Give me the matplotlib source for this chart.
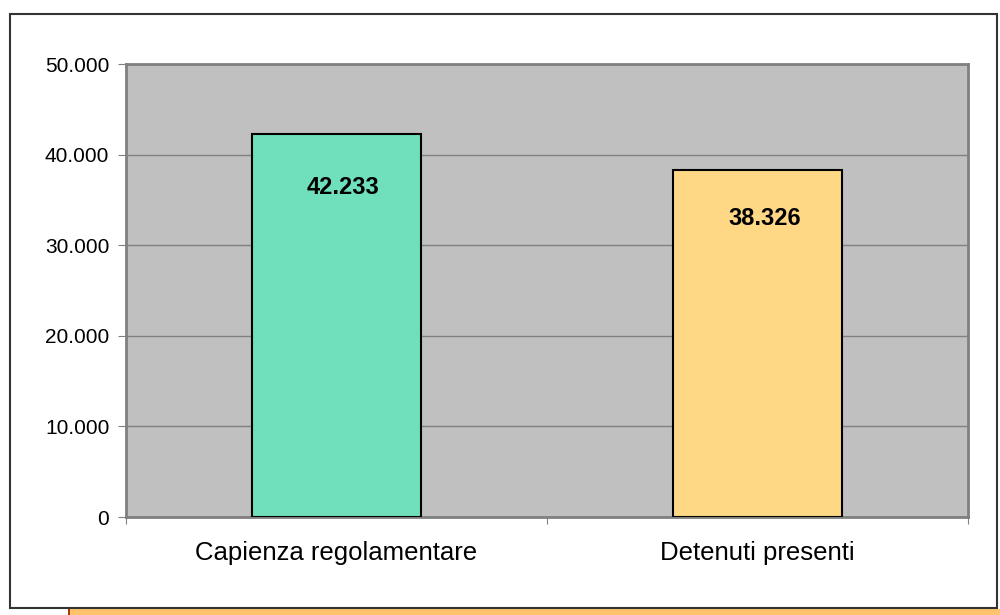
import matplotlib
matplotlib.use("Agg")
import matplotlib.pyplot as plt
from matplotlib.patches import Rectangle

plt.rcParams['font.family'] = ['Liberation Sans', 'DejaVu Sans']

categories = ["Capienza regolamentare", "Detenuti presenti"]
values = [42233, 38326]
value_labels = ["42.233", "38.326"]
colors = ["#70E0BC", "#FFD885"]
y_ticks = [0, 10000, 20000, 30000, 40000, 50000]
y_tick_labels = ["0", "10.000", "20.000", "30.000", "40.000", "50.000"]

fig = plt.figure(figsize=(10, 6.15), dpi=100)

# orange strip below the frame
fig.patches.append(Rectangle((0.068, 0), 0.932, 0.010, transform=fig.transFigure,
                             facecolor="#FFC36B", edgecolor="none", zorder=0))
fig.patches.append(Rectangle((0.068, 0), 0.002, 0.010, transform=fig.transFigure,
                             facecolor="#B03A00", edgecolor="none", zorder=0))
# outer frame
fig.patches.append(Rectangle((0.010, 0.0114), 0.987, 0.9658, transform=fig.transFigure,
                             facecolor="white", edgecolor="#333333", linewidth=1.5, zorder=1))

ax = fig.add_axes([0.126, 0.1593, 0.842, 0.7366])
ax.set_facecolor("#C0C0C0")
ax.set_zorder(2)

x = range(len(categories))
ax.bar(x, values, width=0.4, color=colors, edgecolor="black", linewidth=1.5, zorder=3)
for i, (v, lab) in enumerate(zip(values, value_labels)):
    ax.annotate(lab, (i, v * 0.86), xytext=(5, 0), textcoords="offset points",
                ha="center", va="center", fontsize=17, fontweight="bold", zorder=4)

ax.set_xlim(-0.5, 1.5)
ax.set_ylim(0, 50000)
ax.set_yticks(y_ticks)
ax.set_yticklabels(y_tick_labels, fontsize=15)
ax.yaxis.grid(True, color="#808080", linewidth=1, zorder=0)
ax.set_axisbelow(True)

ax.set_xticks([-0.5, 0.5, 1.5])
ax.set_xticklabels([])
ax.set_xticks(list(x), minor=True)
ax.set_xticklabels(categories, minor=True, fontsize=18.5)
ax.tick_params(axis="x", which="minor", length=0, pad=17)
ax.tick_params(axis="x", which="major", length=5, color="#808080")
ax.tick_params(axis="y", length=6, color="#808080", pad=6)

for s in ax.spines.values():
    s.set_color("#808080")
    s.set_linewidth(2)

fig.savefig("out.png", dpi=100)
